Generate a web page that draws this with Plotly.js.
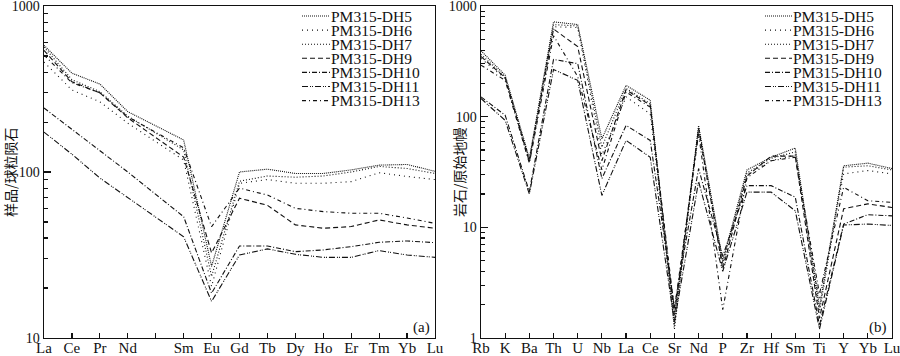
<!DOCTYPE html>
<html><head><meta charset="utf-8">
<script src="https://cdn.plot.ly/plotly-3.0.1.min.js"></script>
<style>html,body{margin:0;padding:0;background:#fff}#chart{width:900px;height:356px}</style>
</head><body><div id="chart"></div>
<script>
// ---------- DATA ----------
const sampleNames = ['PM315-DH5','PM315-DH6','PM315-DH7','PM315-DH9','PM315-DH10','PM315-DH11','PM315-DH13'];

// Panel (a): chondrite-normalised REE
const reeAxisLabels = ['La','Ce','Pr','Nd','Pm','Sm','Eu','Gd','Tb','Dy','Ho','Er','Tm','Yb','Lu'];
const reeTickText   = ['La','Ce','Pr','Nd','','Sm','Eu','Gd','Tb','Dy','Ho','Er','Tm','Yb','Lu'];
const reeElements   = ['La','Ce','Pr','Nd','Sm','Eu','Gd','Tb','Dy','Ho','Er','Tm','Yb','Lu'];
const ree_DH5  = [580, 394, 339, 231, 156, 27.0, 100, 104, 98, 98, 103, 110, 111, 101];
const ree_DH6  = [460, 312, 265, 197, 118, 20.4, 85.5, 90, 85.5, 85.5, 87.5, 99, 94, 90];
const ree_DH7  = [566, 360, 305, 217, 136, 23.5, 88, 94.6, 93, 94.6, 100, 108, 105, 98];
const ree_DH9  = [540, 350, 300, 212, 123, 32.5, 69.5, 63, 48, 45.8, 46.9, 51.4, 48, 45.8];
const ree_DH10 = [243, 180, 135, 100, 53.8, 18.6, 35.8, 35.8, 33.1, 33.9, 35.5, 37.7, 38.4, 37.5];
const ree_DH11 = [174, 128, 92, 70, 40.7, 16.6, 31.6, 34.4, 31.9, 30.6, 30.6, 33.6, 31.6, 30.6];
const ree_DH13 = [507, 345, 300, 215, 140, 46.8, 80, 72.6, 60.4, 57.7, 56.4, 56.4, 52.8, 49];

// Panel (b): primitive-mantle-normalised spider diagram
const spiderElements = ['Rb','K','Ba','Th','U','Nb','La','Ce','Sr','Nd','P','Zr','Hf','Sm','Ti','Y','Yb','Lu'];
const spd_DH5  = [394, 237, 42, 720, 680, 63, 192, 141, 1.3, 83, 5.0, 33, 43, 52, 1.9, 36, 38, 34];
const spd_DH6  = [336, 221, 40, 650, 640, 45, 151, 106, 1.5, 72, 4.5, 30, 40, 45, 2.2, 30.4, 32.6, 30.4];
const spd_DH7  = [365, 229, 41, 680, 660, 53, 180, 131, 1.2, 80, 4.8, 31, 42, 48, 1.7, 35, 36, 33];
const spd_DH9  = [350, 225, 39, 620, 430, 40, 175, 127, 1.6, 78, 4.2, 29, 44, 44, 1.5, 14.7, 16.3, 15.1];
const spd_DH10 = [151, 103, 21, 329, 302, 27.6, 83.4, 61, 1.9, 34, 5.5, 23.8, 23.8, 18.7, 1.3, 10.7, 13, 12.7];
const spd_DH11 = [146, 92.5, 20, 267, 213, 19.4, 61, 43, 1.4, 26, 4.0, 20.8, 20.8, 14.1, 1.2, 10.5, 10.7, 10.4];
const spd_DH13 = [292, 213, 38, 540, 230, 33, 167, 122, 1.8, 70, 1.8, 28, 40, 43, 2.5, 23, 17.4, 16.8];

const yTickVals = [1, 10, 100, 1000];
const yTickText = ['1', '10', '100', '1000'];

// ---------- STYLE ----------
const dashes = ['1px,1px', '1px,4px', '1px,2px', '5px,3px', '5px,2px,1px,2px', '6px,2px,1px,1px,1px,2px', '4px,3px,1px,3px'];
const reeSeries = [ree_DH5, ree_DH6, ree_DH7, ree_DH9, ree_DH10, ree_DH11, ree_DH13];
const spdSeries = [spd_DH5, spd_DH6, spd_DH7, spd_DH9, spd_DH10, spd_DH11, spd_DH13];

const W = 900, H = 356, ML = 44, MR = 8, MT = 6, MB = 18;
const PW = W - ML - MR, PH = H - MT - MB;
const px2x = p => (p - ML) / PW;
const px2y = p => (H - MB - p) / PH;
const serif = 'Liberation Serif, Times New Roman, serif';

const traces = [];
reeSeries.forEach((ys, i) => traces.push({
  x: reeElements, y: ys, xaxis: 'x', yaxis: 'y', mode: 'lines', name: sampleNames[i],
  line: {color: '#111', width: 1.1, dash: dashes[i]}, showlegend: false, hoverinfo: 'skip'
}));
spdSeries.forEach((ys, i) => traces.push({
  x: spiderElements, y: ys, xaxis: 'x2', yaxis: 'y2', mode: 'lines', name: sampleNames[i],
  line: {color: '#111', width: 1.1, dash: dashes[i]}, showlegend: false, hoverinfo: 'skip'
}));

const shapes = [], annotations = [];
function legendAt(sampleX0, sampleX1, textX) {
  sampleNames.forEach((nm, i) => {
    const py = 16 + i * 14.1;
    shapes.push({type: 'line', xref: 'paper', yref: 'paper', x0: px2x(sampleX0), x1: px2x(sampleX1),
      y0: px2y(py), y1: px2y(py), line: {color: '#111', width: 1.1, dash: dashes[i]}});
    annotations.push({xref: 'paper', yref: 'paper', x: px2x(textX), y: px2y(py), xanchor: 'left', yanchor: 'middle',
      text: nm, showarrow: false, borderpad: 0, font: {family: serif, size: 15.5, color: '#111'}});
  });
}
legendAt(302, 330, 330);
legendAt(765, 792, 792);

annotations.push({xref: 'paper', yref: 'paper', x: px2x(10), y: 0.5, xanchor: 'center', yanchor: 'middle',
  textangle: -90, text: '样品/球粒陨石', showarrow: false, font: {family: 'Noto Sans CJK SC', size: 14, color: '#111'}});
annotations.push({xref: 'paper', yref: 'paper', x: px2x(459), y: 0.5, xanchor: 'center', yanchor: 'middle',
  textangle: -90, text: '岩石/原始地幔', showarrow: false, font: {family: 'Noto Sans CJK SC', size: 14, color: '#111'}});
annotations.push({xref: 'paper', yref: 'paper', x: px2x(432), y: px2y(327), xanchor: 'right', yanchor: 'middle',
  text: '(a)', showarrow: false, font: {family: serif, size: 15, color: '#111'}});
annotations.push({xref: 'paper', yref: 'paper', x: px2x(889), y: px2y(327), xanchor: 'right', yanchor: 'middle',
  text: '(b)', showarrow: false, font: {family: serif, size: 15, color: '#111'}});

const axCommon = {
  showline: true, linecolor: '#111', linewidth: 1.4, mirror: true, showgrid: false, zeroline: false,
  ticks: 'inside', tickcolor: '#111', tickwidth: 1.2, ticklen: 5,
  tickfont: {family: serif, size: 15, color: '#111'}, fixedrange: true
};
const yCommon = Object.assign({}, axCommon, {
  type: 'log', tickmode: 'array', tickvals: yTickVals, ticktext: yTickText, ticklen: 7,
  tickfont: {family: serif, size: 14, color: '#111'}, ticklabeloverflow: 'allow',
  minor: {ticks: 'inside', ticklen: 4, tickcolor: '#111', tickwidth: 1.1, dtick: 'D1'}
});

const layout = {
  width: W, height: H, margin: {l: ML, r: MR, t: MT, b: MB},
  paper_bgcolor: '#fff', plot_bgcolor: '#fff', showlegend: false,
  xaxis: Object.assign({}, axCommon, {domain: [0, px2x(435)], anchor: 'y', type: 'category',
    categoryorder: 'array', categoryarray: reeAxisLabels, tickmode: 'array', tickvals: reeAxisLabels,
    ticktext: reeTickText, range: [0, reeAxisLabels.length - 1], ticklabelstandoff: -4}),
  yaxis: Object.assign({}, yCommon, {anchor: 'x', range: [0.9995, 3.0005]}),
  xaxis2: Object.assign({}, axCommon, {domain: [px2x(481), 1], anchor: 'y2', type: 'category',
    categoryorder: 'array', categoryarray: spiderElements, tickmode: 'array', tickvals: spiderElements,
    ticktext: spiderElements, range: [0, spiderElements.length - 1], ticklabelstandoff: -4}),
  yaxis2: Object.assign({}, yCommon, {anchor: 'x2', range: [-0.0005, 3.0005]}),
  shapes: shapes, annotations: annotations
};

Plotly.newPlot('chart', traces, layout, {staticPlot: true, displayModeBar: false});
</script>
</body></html>
